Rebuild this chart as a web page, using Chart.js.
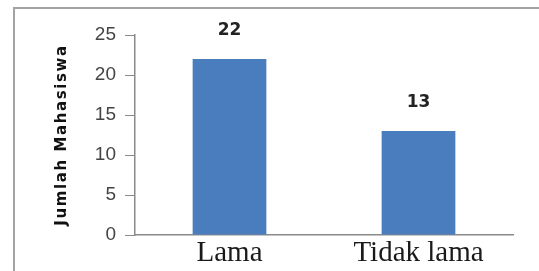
<!DOCTYPE html>
<html>
<head>
<meta charset="utf-8">
<script src="https://cdn.jsdelivr.net/npm/chart.js@4/dist/chart.umd.min.js"></script>
<style>
  html, body { margin: 0; padding: 0; background: #fff; overflow: hidden; }
  canvas { display: block; }
</style>
</head>
<body>
<canvas id="grafico" width="539" height="271"></canvas>
<script>
// datos del gráfico
var kategori = ['Lama', 'Tidak lama'];
var jumlah = [22, 13];
var ticksY = [0, 5, 10, 15, 20, 25];
var judulY = 'Jumlah Mahasiswa';

// plugin: marco exterior, etiquetas encima de las barras y título del eje Y
var etiquetas = {
    id: 'etiquetas',
    beforeDraw: function(chart) {
        var ctx = chart.ctx;
        ctx.save();
        ctx.strokeStyle = '#a3a3a3';
        ctx.lineWidth = 2;
        ctx.beginPath();
        ctx.moveTo(14, chart.height);
        ctx.lineTo(14, 8);
        ctx.lineTo(chart.width, 8);
        ctx.stroke();
        ctx.restore();
    },
    afterDatasetsDraw: function(chart) {
        var ctx = chart.ctx;
        var meta = chart.getDatasetMeta(0);
        ctx.save();
        ctx.font = 'bold 17px "DejaVu Sans"';
        ctx.fillStyle = '#222';
        ctx.textAlign = 'center';
        ctx.textBaseline = 'bottom';
        meta.data.forEach(function(bar, i) {
            ctx.fillText(jumlah[i], bar.x, bar.y - 20);
        });
        ctx.restore();

        // título del eje Y, girado, con espaciado entre letras
        var area = chart.chartArea;
        ctx.save();
        ctx.translate(62, (area.top + area.bottom) / 2);
        ctx.rotate(-Math.PI / 2);
        ctx.font = 'bold 15px "DejaVu Sans"';
        ctx.letterSpacing = '1.6px';
        ctx.fillStyle = '#111';
        ctx.textAlign = 'center';
        ctx.textBaseline = 'middle';
        ctx.fillText(judulY, 0, 0);
        ctx.restore();
    }
};

var ctx = document.getElementById('grafico').getContext('2d');
var chart = new Chart(ctx, {
    type: 'bar',
    data: {
        labels: kategori,
        datasets: [{
            data: jumlah,
            backgroundColor: '#4a7dbd',
            barPercentage: 0.39,
            categoryPercentage: 1
        }]
    },
    options: {
        responsive: false,
        animation: false,
        layout: { padding: { left: 54, top: 35, right: 26, bottom: 0 } },
        plugins: { legend: { display: false }, tooltip: { enabled: false } },
        scales: {
            x: {
                grid: { display: false, drawTicks: false },
                border: { color: '#8a8a8a', width: 1.5 },
                ticks: { color: '#1a1a1a', padding: 1, font: { family: '"Liberation Serif"', size: 29 } },
                afterFit: function(scale) { scale.height = 36; }
            },
            y: {
                min: 0,
                max: 25,
                afterBuildTicks: function(scale) {
                    scale.ticks = ticksY.map(function(v) { return { value: v }; });
                },
                grid: { drawOnChartArea: false, tickLength: 10, color: '#8a8a8a', tickColor: '#8a8a8a' },
                border: { color: '#8a8a8a', width: 1.5 },
                ticks: { color: '#444', padding: 9, font: { family: '"Liberation Sans"', size: 19 } },
                afterFit: function(scale) { scale.width = 81; }
            }
        }
    },
    plugins: [etiquetas]
});
</script>
</body>
</html>
